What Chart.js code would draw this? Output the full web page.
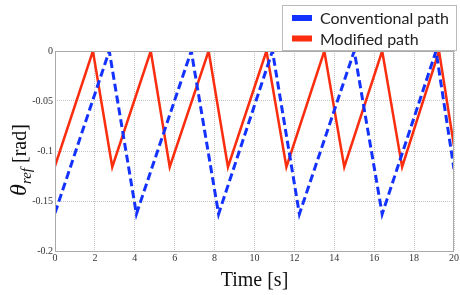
<!DOCTYPE html>
<html>
<head>
<meta charset="utf-8">
<script src="https://cdn.jsdelivr.net/npm/chart.js@4/dist/chart.umd.min.js"></script>
<style>
  html, body { margin: 0; padding: 0; background: #fff; }
  #wrap { width: 460px; height: 295px; }
</style>
</head>
<body>
<div id="wrap"><canvas id="myChart"></canvas></div>
<script>
// Conventional path (blue dashed) - corner points
const convT = [0, 2.72, 4.08, 6.83, 8.2, 10.9, 12.25, 15.0, 16.4, 19.1, 20];
const convY = [-0.162, 0, -0.163, 0, -0.163, 0, -0.163, 0, -0.163, 0, -0.118];

// Modified path (red solid)
const modT = [0, 1.9, 2.87, 4.8, 5.75, 7.7, 8.67, 10.6, 11.6, 13.5, 14.5, 16.4, 17.4, 19.25, 20];
const modY = [-0.115, 0, -0.116, 0, -0.116, 0, -0.116, 0, -0.116, 0, -0.116, 0, -0.116, 0, -0.095];

const xTicks = [0, 2, 4, 6, 8, 10, 12, 14, 16, 18, 20];
const yTicks = [0, -0.05, -0.1, -0.15, -0.2];

function pts(t, y) {
    return t.map((v, i) => ({ x: v, y: y[i] }));
}

// frame, y title with subscript, legend box
const extras = {
    id: 'extras',
    afterDraw(chart) {
        const ctx = chart.ctx;
        const a = chart.chartArea;
        ctx.save();
        ctx.strokeStyle = '#aaa';
        ctx.lineWidth = 1;
        ctx.strokeRect(a.left + 0.5, a.top + 0.5, a.right - a.left - 1, a.bottom - a.top);

        // y axis title
        ctx.translate(26, 160);
        ctx.rotate(-Math.PI / 2);
        ctx.fillStyle = '#111';
        ctx.textBaseline = 'alphabetic';
        ctx.textAlign = 'left';
        const p1 = 'italic 24px "Liberation Serif"';
        const p2 = 'italic 15px "Liberation Serif"';
        const p3 = '20px "Liberation Serif"';
        ctx.font = p1; const w1 = ctx.measureText('θ').width;
        ctx.font = p2; const w2 = ctx.measureText('ref').width;
        ctx.font = p3; const w3 = ctx.measureText(' [rad]').width;
        let x = -(w1 + w2 + w3) / 2;
        ctx.font = p1; ctx.fillText('θ', x, 0); x += w1;
        ctx.font = p2; ctx.fillText('ref', x, 5); x += w2;
        ctx.font = p3; ctx.fillText(' [rad]', x, 0);
        ctx.restore();

        // legend
        ctx.save();
        ctx.fillStyle = '#fff';
        ctx.fillRect(282, 5, 175, 45);
        ctx.strokeStyle = '#bbb';
        ctx.lineWidth = 1;
        ctx.strokeRect(282.5, 5.5, 174, 45);
        ctx.font = '16px Lato';
        ctx.textBaseline = 'middle';
        ctx.textAlign = 'left';
        chart.data.datasets.forEach((ds, i) => {
            const cy = 18 + i * 20.5;
            ctx.fillStyle = ds.borderColor;
            ctx.fillRect(292, cy - 3, 20, 6);
            ctx.fillStyle = '#222';
            ctx.fillText(ds.label, 320, cy + 1);
        });
        ctx.restore();
    }
};

let myChart = document.getElementById("myChart").getContext('2d');

let pathChart = new Chart(myChart, {
    type: 'line',
    data: {
        datasets: [{
            label: 'Conventional path',
            data: pts(convT, convY),
            borderColor: 'rgb(20, 50, 255)',
            borderWidth: 3,
            borderDash: [8, 4],
            pointRadius: 0,
            tension: 0
        }, {
            label: 'Modified path',
            data: pts(modT, modY),
            borderColor: 'rgb(250, 45, 15)',
            borderWidth: 2.5,
            pointRadius: 0,
            tension: 0
        }]
    },
    options: {
        responsive: true,
        maintainAspectRatio: false,
        animation: false,
        layout: { padding: { top: 51, right: 5, left: 0, bottom: 0 } },
        plugins: {
            legend: { display: false },
            tooltip: { enabled: false }
        },
        scales: {
            x: {
                type: 'linear',
                min: 0,
                max: 20,
                afterBuildTicks: (s) => { s.ticks = xTicks.map(v => ({ value: v })); },
                afterFit: (s) => { s.height = 44; },
                ticks: {
                    padding: 1,
                    color: '#333',
                    font: { family: 'Liberation Serif', size: 10 }
                },
                grid: { color: '#c4c4c4', drawTicks: false, tickLength: 0 },
                border: { display: false, dash: [1, 1] },
                title: {
                    display: true,
                    text: 'Time [s]',
                    color: '#111',
                    font: { family: 'Liberation Serif', size: 20 },
                    padding: { top: 4, bottom: 2 }
                }
            },
            y: {
                min: -0.2,
                max: 0,
                afterBuildTicks: (s) => { s.ticks = yTicks.map(v => ({ value: v })); },
                afterFit: (s) => { s.width = 55; },
                ticks: {
                    padding: 2,
                    color: '#333',
                    font: { family: 'Liberation Serif', size: 10 },
                    callback: (v) => String(Number(v.toFixed(2)))
                },
                grid: { color: '#c4c4c4', drawTicks: false, tickLength: 0 },
                border: { display: false, dash: [1, 1] }
            }
        }
    },
    plugins: [extras]
});
</script>
</body>
</html>
